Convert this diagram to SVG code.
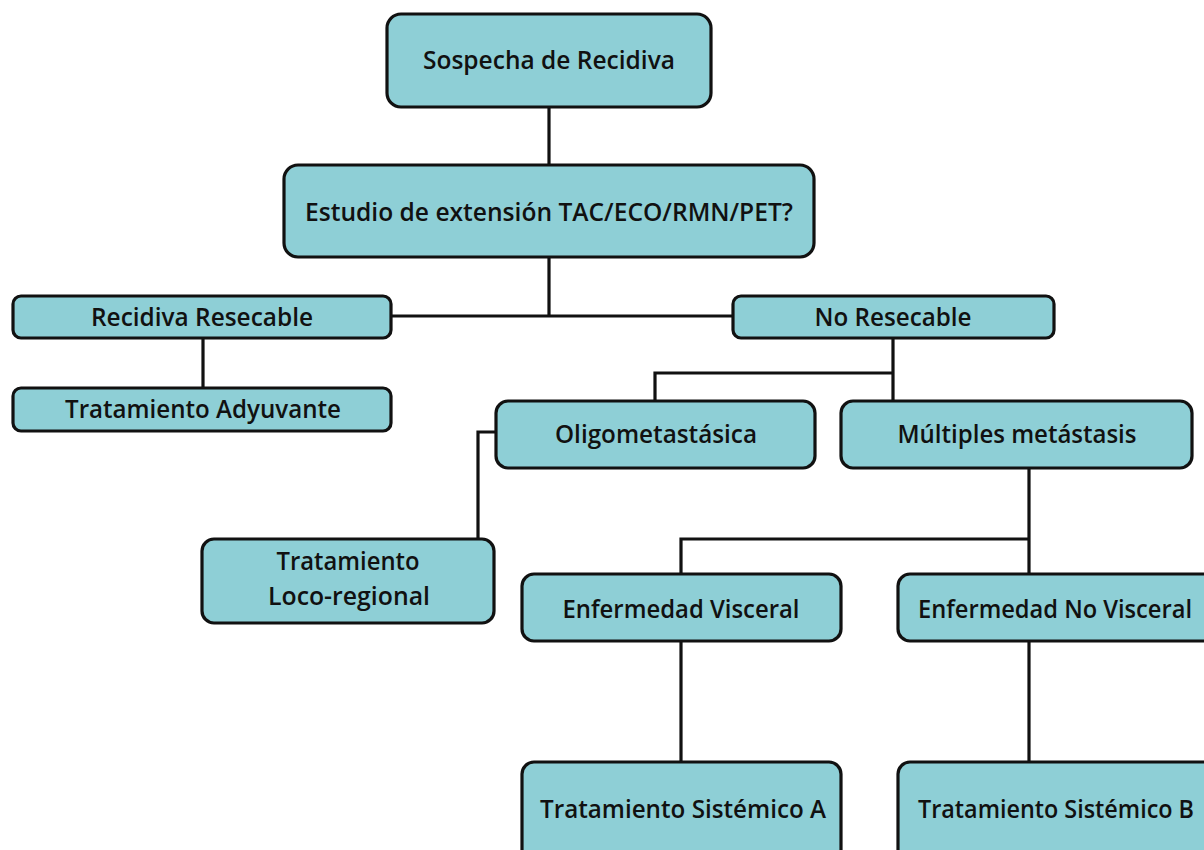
<svg xmlns="http://www.w3.org/2000/svg" width="1204" height="850" viewBox="0 0 1204 850">
<style>
.box{fill:#8ecfd6;stroke:#111;stroke-width:3.2}
.t{font-family:"Open Sans","Liberation Sans",sans-serif;font-weight:600;font-size:26px;fill:#111;text-anchor:middle}
.c{fill:none;stroke:#111;stroke-width:3.2}
</style>
<rect width="1204" height="850" fill="#fff"/>
<g id="connectors">
<path class="c" d="M549 107V165"/>
<path class="c" d="M549 257V316M391 316H733"/>
<path class="c" d="M203 338V388"/>
<path class="c" d="M893 338V401M893 373H655V401"/>
<path class="c" d="M496 432H478V539"/>
<path class="c" d="M1029 468V574M1029 539H681V574"/>
<path class="c" d="M681 641V762"/>
<path class="c" d="M1029 641V762"/>
</g>
<g id="n1"><rect class="box" x="387" y="14" width="324" height="93" rx="14"/><text class="t" x="549" y="69" textLength="252" lengthAdjust="spacingAndGlyphs">Sospecha de Recidiva</text></g>
<g id="n2"><rect class="box" x="284" y="165" width="530" height="92" rx="14"/><text class="t" x="549" y="221" textLength="488" lengthAdjust="spacingAndGlyphs">Estudio de extensión TAC/ECO/RMN/PET?</text></g>
<g id="n3"><rect class="box" x="13" y="296" width="378" height="42" rx="8"/><text class="t" x="202" y="326" textLength="222" lengthAdjust="spacingAndGlyphs">Recidiva Resecable</text></g>
<g id="n4"><rect class="box" x="13" y="388" width="378" height="43" rx="8"/><text class="t" x="203" y="418" textLength="276" lengthAdjust="spacingAndGlyphs">Tratamiento Adyuvante</text></g>
<g id="n5"><rect class="box" x="733" y="296" width="321" height="42" rx="8"/><text class="t" x="893" y="326" textLength="157" lengthAdjust="spacingAndGlyphs">No Resecable</text></g>
<g id="n6"><rect class="box" x="496" y="401" width="319" height="67" rx="12"/><text class="t" x="656" y="443" textLength="202" lengthAdjust="spacingAndGlyphs">Oligometastásica</text></g>
<g id="n7"><rect class="box" x="841" y="401" width="351" height="67" rx="12"/><text class="t" x="1017" y="443" textLength="239" lengthAdjust="spacingAndGlyphs">Múltiples metástasis</text></g>
<g id="n8"><rect class="box" x="202" y="539" width="292" height="84" rx="12"/><text class="t" x="348" y="570" textLength="143" lengthAdjust="spacingAndGlyphs">Tratamiento</text><text class="t" x="349" y="605" textLength="162" lengthAdjust="spacingAndGlyphs">Loco-regional</text></g>
<g id="n9"><rect class="box" x="522" y="574" width="319" height="67" rx="12"/><text class="t" x="681" y="618" textLength="237" lengthAdjust="spacingAndGlyphs">Enfermedad Visceral</text></g>
<g id="n10"><rect class="box" x="898" y="574" width="320" height="67" rx="12"/><text class="t" x="1055" y="618" textLength="274" lengthAdjust="spacingAndGlyphs">Enfermedad No Visceral</text></g>
<g id="n11"><rect class="box" x="522" y="762" width="319" height="100" rx="12"/><text class="t" x="683" y="818" textLength="286" lengthAdjust="spacingAndGlyphs">Tratamiento Sistémico A</text></g>
<g id="n12"><rect class="box" x="898" y="762" width="320" height="100" rx="12"/><text class="t" x="1056" y="818" textLength="276" lengthAdjust="spacingAndGlyphs">Tratamiento Sistémico B</text></g>
</svg>
